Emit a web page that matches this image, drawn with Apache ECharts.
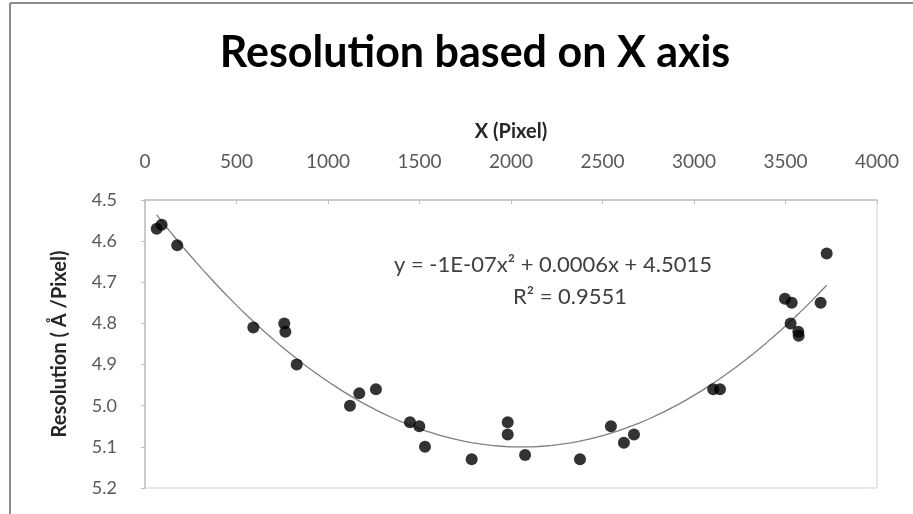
<!DOCTYPE html>
<html>
<head>
<meta charset="utf-8">
<script src="https://cdn.jsdelivr.net/npm/echarts@6/dist/echarts.min.js"></script>
<style>
html,body{margin:0;padding:0;background:#fff;}
#chart{width:913px;height:514px;}
</style>
</head>
<body>
<div id="chart"></div>
<script>
// ---- data ----
const xPixel = [64, 91, 176, 592, 761, 767, 829, 1120, 1171, 1262, 1448, 1499, 1530, 1785, 1982, 1982, 2077, 2377, 2546, 2617, 2672, 3105, 3142, 3497, 3534, 3528, 3570, 3572, 3692, 3725];
const resolution = [4.57, 4.56, 4.61, 4.81, 4.80, 4.82, 4.90, 5.00, 4.97, 4.96, 5.04, 5.05, 5.10, 5.13, 5.04, 5.07, 5.12, 5.13, 5.05, 5.09, 5.07, 4.96, 4.96, 4.74, 4.75, 4.80, 4.82, 4.83, 4.75, 4.63];
const xTicks = [0, 500, 1000, 1500, 2000, 2500, 3000, 3500, 4000];
const yTicks = [4.5, 4.6, 4.7, 4.8, 4.9, 5.0, 5.1, 5.2];
const titleText = 'Resolution based on X axis';
const xName = 'X (Pixel)';
const yName = 'Resolution ( Å /Pixel)';
const eqLine1 = 'y = -1E-07x² + 0.0006x + 4.5015';
const eqLine2 = 'R² = 0.9551';

// quadratic least-squares fit (polynomial trendline of the data)
function quadFit(xs, ys) {
  let S = [0,0,0,0,0], T = [0,0,0];
  for (let i = 0; i < xs.length; i++) {
    const x = xs[i], y = ys[i];
    let p = 1;
    for (let k = 0; k < 5; k++) { S[k] += p; if (k < 3) T[k] += p * y; p *= x; }
  }
  const A = [[S[0],S[1],S[2],T[0]],[S[1],S[2],S[3],T[1]],[S[2],S[3],S[4],T[2]]];
  for (let c = 0; c < 3; c++) {
    let piv = c;
    for (let r = c+1; r < 3; r++) if (Math.abs(A[r][c]) > Math.abs(A[piv][c])) piv = r;
    [A[c], A[piv]] = [A[piv], A[c]];
    for (let r = 0; r < 3; r++) if (r !== c) {
      const f = A[r][c] / A[c][c];
      for (let k = c; k < 4; k++) A[r][k] -= f * A[c][k];
    }
  }
  return [A[0][3]/A[0][0], A[1][3]/A[1][1], A[2][3]/A[2][2]];
}
const coef = quadFit(xPixel, resolution);
const xmin = Math.min(...xPixel), xmax = Math.max(...xPixel);
const trend = [];
for (let i = 0; i <= 100; i++) {
  const x = xmin + (xmax - xmin) * i / 100;
  trend.push([x, coef[0] + coef[1]*x + coef[2]*x*x]);
}
const points = xPixel.map((x, i) => [x, resolution[i]]);

const chart = echarts.init(document.getElementById('chart'), null, {renderer: 'canvas'});
const FONT = 'Lato, "Open Sans", sans-serif';
chart.setOption({
  animation: false,
  backgroundColor: '#ffffff',
  title: {
    text: titleText,
    left: 470,
    textAlign: 'center',
    top: 27,
    textStyle: {fontFamily: FONT, fontWeight: 'bold', fontSize: 43, color: '#000000'}
  },
  grid: {
    left: 145, right: 36, top: 200, bottom: 26,
    show: true, borderColor: '#c7d5e3', borderWidth: 1, backgroundColor: 'transparent'
  },
  xAxis: {
    type: 'value', position: 'top',
    min: xTicks[0], max: xTicks[xTicks.length-1], interval: 500,
    name: xName, nameLocation: 'middle', nameGap: 58,
    nameTextStyle: {fontFamily: FONT, fontWeight: 'bold', fontSize: 20, color: '#262626'},
    axisLine: {show: true, lineStyle: {color: '#bfbfbf', width: 1.5}},
    axisTick: {show: true, length: 4, inside: true, lineStyle: {color: '#bfbfbf'}},
    axisLabel: {margin: 29, fontFamily: FONT, fontSize: 19, color: '#595959',
      formatter: v => String(v)},
    splitLine: {show: false}
  },
  yAxis: {
    type: 'value', inverse: true,
    min: yTicks[0], max: yTicks[yTicks.length-1], interval: 0.1,
    name: yName, nameLocation: 'middle', nameGap: 75,
    nameTextStyle: {fontFamily: FONT, fontWeight: 'bold', fontSize: 20, color: '#262626'},
    axisLine: {show: true, lineStyle: {color: '#bfbfbf', width: 1.5}},
    axisTick: {show: true, length: 4, lineStyle: {color: '#bfbfbf'}},
    axisLabel: {margin: 28, fontFamily: FONT, fontSize: 18, color: '#595959',
      formatter: v => Number(v).toFixed(1)},
    splitLine: {show: false}
  },
  series: [
    {
      type: 'line', data: trend, showSymbol: false, smooth: false,
      lineStyle: {color: '#7f7f7f', width: 1.3}, z: 2, silent: true
    },
    {
      type: 'scatter', data: points, symbol: 'circle', symbolSize: 12,
      itemStyle: {color: '#000000'}, z: 3
    }
  ],
  graphic: [
    {type: 'line', shape: {x1: 10, y1: 3, x2: 913, y2: 3}, style: {stroke: '#8c8c8c', lineWidth: 2}},
    {type: 'line', shape: {x1: 10, y1: 3, x2: 10, y2: 514}, style: {stroke: '#8c8c8c', lineWidth: 2}},
    {type: 'text', x: 553, y: 265, style: {text: eqLine1, fontFamily: FONT, fontSize: 22, fill: '#404040', align: 'center', verticalAlign: 'middle'}},
    {type: 'text', x: 570, y: 297, style: {text: eqLine2, fontFamily: FONT, fontSize: 22, fill: '#404040', align: 'center', verticalAlign: 'middle'}}
  ]
});
</script>
</body>
</html>
